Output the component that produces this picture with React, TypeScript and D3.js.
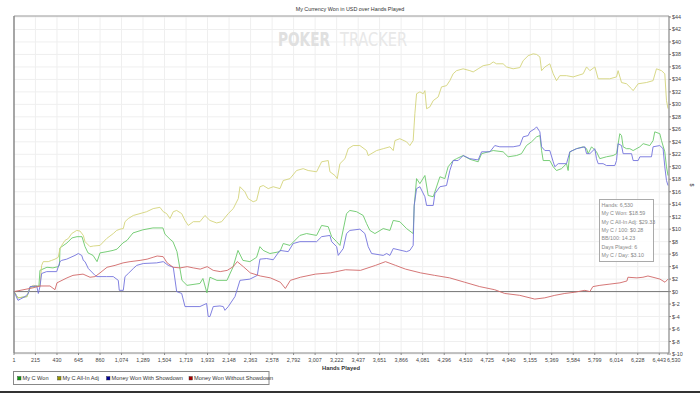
import React from "react";
import * as d3 from "d3";

// hands played tick labels on the x axis
const handTicks = [1, 215, 430, 645, 860, 1074, 1289, 1504, 1719, 1933, 2148, 2363, 2578, 2792, 3007, 3222, 3437, 3651, 3866, 4081, 4296, 4510, 4725, 4940, 5155, 5369, 5584, 5799, 6014, 6228, 6443, 6530];
const dollarTicks = [-10, -8, -6, -4, -2, 0, 2, 4, 6, 8, 10, 12, 14, 16, 18, 20, 22, 24, 26, 28, 30, 32, 34, 36, 38, 40, 42, 44];

// [hand, dollars]
const myCWon: [number, number][] = [
  [1, 0], [41, -1.0], [131, -0.8], [161, 0.7], [241, 0.9], [250, 0.9], [260, 3.4], [330, 3.9], [390, 3.8], [440, 4.0], [455, 4.2], [460, 7.0], [530, 7.8], [580, 8.6], [630, 8.8], [680, 8.8], [710, 7.2], [740, 6.2], [790, 5.8], [830, 4.8], [860, 6.2], [930, 6.4], [990, 6.6], [1029, 6.8], [1089, 7.8], [1129, 8.2], [1189, 9.4], [1288, 9.9], [1388, 10.2], [1488, 10.2], [1508, 9.2], [1558, 8.4], [1588, 8.0], [1628, 6.4], [1678, 1.8], [1728, 1.0], [1857, 1.3], [1887, 2.1], [1927, -0.2], [1957, 2.3], [2027, 1.8], [2127, 1.8], [2187, 3.9], [2237, 6.6], [2286, 5.0], [2356, 4.8], [2423, 5.5], [2456, 7.2], [2489, 6.6], [2556, 6.1], [2656, 6.4], [2689, 7.7], [2756, 7.4], [2855, 9.0], [2922, 9.3], [3022, 9.0], [3072, 10.6], [3138, 10.4], [3172, 8.8], [3222, 8.0], [3255, 7.4], [3321, 12.5], [3354, 13.0], [3421, 12.8], [3487, 12.2], [3521, 10.9], [3554, 9.8], [3604, 9.3], [3687, 10.1], [3754, 9.8], [3787, 11.4], [3853, 11.2], [3920, 10.1], [3986, 9.3], [3996, 13.6], [4020, 18.1], [4053, 17.3], [4103, 18.6], [4136, 15.4], [4186, 15.2], [4203, 16.0], [4253, 18.4], [4302, 18.1], [4335, 20.0], [4385, 21.0], [4419, 21.3], [4485, 21.8], [4552, 21.2], [4635, 20.8], [4669, 22.1], [4785, 22.6], [4884, 22.4], [4934, 21.6], [5018, 21.8], [5067, 22.1], [5117, 23.4], [5168, 24.0], [5218, 24.8], [5251, 25.0], [5268, 22.6], [5284, 21.0], [5350, 21.0], [5384, 20.0], [5417, 19.4], [5467, 19.7], [5517, 20.5], [5533, 19.4], [5550, 22.4], [5617, 22.9], [5683, 23.2], [5717, 22.9], [5733, 22.1], [5767, 23.2], [5816, 22.4], [5849, 21.3], [5916, 21.6], [5982, 21.8], [6016, 22.1], [6049, 25.3], [6066, 25.0], [6082, 23.2], [6116, 22.9], [6149, 22.9], [6182, 22.6], [6249, 23.2], [6282, 23.7], [6348, 23.4], [6381, 24.2], [6398, 25.6], [6448, 25.3], [6465, 24.2], [6498, 22.4], [6515, 20.0], [6530, 18.59],
];

const allInAdj: [number, number][] = [
  [1, 0], [41, -1.0], [131, -0.8], [161, 0.7], [194, 1.0], [260, 0.8], [277, 4.2], [293, 4.8], [343, 4.8], [377, 5.0], [410, 5.2], [443, 5.5], [460, 6.9], [477, 7.4], [510, 8.2], [543, 8.5], [577, 9.3], [627, 9.8], [660, 9.7], [693, 9.0], [710, 8.0], [760, 7.2], [793, 7.3], [860, 7.4], [926, 8.5], [992, 9.3], [1026, 9.8], [1059, 10.0], [1092, 10.1], [1109, 11.2], [1142, 11.7], [1192, 12.2], [1259, 12.5], [1325, 12.8], [1391, 13.3], [1458, 13.5], [1491, 12.8], [1525, 12.5], [1558, 11.7], [1591, 12.8], [1625, 13.0], [1675, 12.5], [1708, 11.4], [1741, 10.6], [1791, 11.2], [1857, 11.2], [1907, 12.2], [1957, 11.4], [2024, 11.0], [2074, 11.2], [2140, 12.5], [2190, 13.3], [2240, 14.9], [2257, 16.8], [2306, 16.0], [2339, 14.9], [2389, 14.4], [2423, 14.6], [2456, 16.8], [2489, 17.0], [2539, 16.5], [2589, 16.8], [2656, 16.5], [2689, 17.8], [2756, 18.1], [2822, 19.4], [2888, 19.7], [2938, 19.4], [3022, 19.2], [3072, 20.8], [3138, 21.0], [3155, 19.2], [3205, 18.6], [3228, 18.1], [3255, 20.5], [3305, 21.3], [3338, 22.9], [3387, 23.4], [3454, 23.4], [3521, 22.6], [3537, 21.8], [3621, 22.6], [3687, 22.9], [3754, 23.2], [3787, 22.6], [3804, 24.2], [3853, 24.5], [3920, 24.0], [3953, 23.4], [3986, 24.2], [4003, 28.5], [4020, 31.7], [4053, 32.0], [4086, 31.7], [4103, 32.2], [4120, 29.3], [4153, 29.6], [4186, 30.6], [4236, 31.2], [4269, 32.8], [4319, 33.0], [4352, 33.8], [4385, 34.9], [4419, 35.4], [4485, 35.7], [4552, 35.4], [4585, 35.2], [4635, 35.7], [4685, 36.2], [4752, 36.4], [4785, 36.8], [4818, 36.5], [4884, 36.5], [4918, 36.0], [4984, 35.7], [5051, 35.9], [5084, 37.0], [5134, 37.8], [5184, 38.1], [5218, 38.0], [5251, 37.6], [5268, 35.4], [5301, 36.0], [5350, 36.5], [5384, 34.9], [5417, 33.8], [5450, 34.6], [5517, 34.6], [5583, 34.4], [5683, 34.9], [5717, 36.0], [5750, 35.4], [5800, 36.0], [5833, 34.1], [5949, 34.1], [6016, 34.4], [6032, 35.4], [6066, 33.5], [6116, 33.3], [6166, 32.5], [6182, 32.2], [6232, 33.3], [6315, 33.5], [6381, 33.8], [6415, 35.7], [6465, 35.4], [6498, 34.9], [6515, 30.6], [6530, 29.33],
];

const withShowdown: [number, number][] = [
  [1, 0], [41, -1.4], [111, -0.8], [144, -0.3], [161, 0.8], [228, 0.9], [244, -0.3], [260, 0.8], [277, 2.9], [327, 3.2], [427, 3.2], [460, 4.8], [477, 5.0], [527, 5.2], [610, 5.8], [643, 6.1], [677, 5.8], [693, 5.0], [710, 4.8], [743, 3.7], [810, 2.6], [827, 2.4], [926, 2.4], [992, 2.4], [1042, 1.8], [1052, 0.2], [1092, 0.2], [1109, 2.4], [1142, 2.9], [1192, 3.7], [1226, 4.2], [1292, 4.5], [1425, 4.6], [1491, 4.8], [1541, 4.2], [1591, 3.9], [1625, 0], [1675, -0.3], [1708, -2.4], [1857, -2.4], [1924, -1.9], [1940, -4.0], [1957, -4.0], [1990, -2.4], [2057, -2.3], [2090, -2.4], [2107, -3.0], [2140, -2.4], [2207, -0.8], [2257, 1.8], [2356, 2.0], [2430, 2.6], [2456, 5.2], [2523, 5.3], [2589, 5.1], [2656, 6.6], [2739, 6.4], [2788, 7.7], [2855, 8.0], [3022, 8.0], [3072, 8.8], [3155, 9.0], [3172, 8.0], [3222, 7.2], [3238, 5.8], [3288, 6.9], [3321, 9.3], [3354, 9.8], [3454, 10.0], [3504, 9.3], [3537, 7.2], [3571, 6.1], [3687, 5.8], [3721, 6.1], [3754, 5.8], [3787, 6.9], [3920, 6.4], [3953, 6.6], [3986, 7.4], [3996, 13.8], [4020, 16.5], [4053, 16.8], [4103, 15.2], [4120, 13.8], [4186, 13.8], [4203, 15.7], [4253, 16.8], [4319, 17.0], [4352, 19.4], [4385, 21.0], [4435, 21.0], [4485, 21.8], [4552, 21.3], [4635, 21.1], [4669, 22.4], [4752, 22.4], [4801, 23.4], [4851, 23.2], [4984, 23.2], [5051, 23.4], [5084, 24.8], [5134, 25.0], [5151, 25.6], [5201, 26.1], [5218, 26.4], [5251, 25.6], [5268, 23.2], [5301, 22.6], [5350, 22.6], [5384, 20.8], [5400, 20.0], [5434, 20.5], [5517, 20.5], [5550, 22.4], [5617, 22.9], [5700, 23.2], [5717, 22.1], [5750, 22.1], [5800, 22.9], [5816, 21.3], [5833, 20.5], [5882, 20.5], [5916, 20.2], [5999, 20.2], [6016, 21.0], [6032, 23.7], [6066, 23.4], [6082, 22.1], [6166, 22.1], [6182, 21.0], [6232, 21.0], [6249, 21.6], [6365, 21.6], [6381, 23.2], [6448, 23.4], [6481, 22.9], [6498, 20.0], [6515, 17.8], [6530, 17.0],
];

const withoutShowdown: [number, number][] = [
  [1, 0], [190, 0.6], [260, 0.9], [360, 0.9], [410, 0.3], [430, 1.4], [530, 2.2], [590, 2.6], [690, 2.8], [760, 2.3], [810, 2.4], [860, 3.0], [930, 3.9], [1010, 4.2], [1090, 4.6], [1160, 4.8], [1260, 5.0], [1330, 5.2], [1390, 5.5], [1430, 5.7], [1490, 5.6], [1530, 4.6], [1590, 3.9], [1660, 3.8], [1730, 4.0], [1790, 3.8], [1860, 3.6], [1930, 4.0], [1990, 3.4], [2060, 3.2], [2130, 3.4], [2190, 4.0], [2230, 4.8], [2290, 4.0], [2360, 3.0], [2460, 2.5], [2560, 2.2], [2660, 1.5], [2710, 0.5], [2760, 1.8], [2860, 2.3], [3010, 2.8], [3160, 3.0], [3310, 3.5], [3460, 3.4], [3610, 4.2], [3710, 4.8], [3810, 4.2], [3910, 3.6], [4060, 3.0], [4200, 2.6], [4350, 2.2], [4500, 1.5], [4650, 0.8], [4800, 0.3], [4900, -0.3], [5050, -0.6], [5200, -1.2], [5300, -1.0], [5400, -0.6], [5500, -0.3], [5600, -0.1], [5700, 0.2], [5750, 0.0], [5780, 0.8], [5850, 1.0], [5950, 1.2], [6050, 1.4], [6120, 1.7], [6130, 2.3], [6220, 2.2], [6280, 2.3], [6330, 2.5], [6380, 2.3], [6450, 2.0], [6500, 1.5], [6530, 2.0],
];

const seriesNames = ["My C Won", "My C All-In Adj", "Money Won With Showdown", "Money Won Without Showdown"];
const infoLines = ["Hands: 6,530", "My C Won: $18.59", "My C All-In Adj: $29.33", "My C / 100: $0.28", "BB/100: 14.23", "Days Played: 6", "My C / Day: $3.10"];

const lineColors = ["#6ac86a", "#d4d47a", "#7373dc", "#d06868"];
const legendColors = ["#119911", "#999900", "#000099", "#aa0000"];

const font = "'Liberation Sans', Arial, sans-serif";
const markFont = "'Liberation Sans Narrow', 'DejaVu Sans Condensed', sans-serif";

export default function App() {
  const left = 14, right = 669, top = 16, bottom = 353;
  const x = d3.scaleLinear().domain([1, 6530]).range([left, right - 1]);
  const y = d3.scaleLinear().domain([-10, 44]).range([bottom + 1, top + 1]);
  const line = d3.line<[number, number]>().x(d => x(d[0])).y(d => y(d[1]));
  const fmt = d3.format(",");
  const all = [myCWon, allInAdj, withShowdown, withoutShowdown];

  const legendX = [17.5, 57.5, 106.5, 189];
  const last = handTicks.length - 1;

  return (
    <svg width={700} height={393} style={{ position: "fixed", left: 0, top: 0, background: "#fff" }} fontFamily={font}>
      <rect width={700} height={393} fill="#fff" />
      <text x={350} y={11} fontSize={5.4} textAnchor="middle" fill="#333">My Currency Won in USD over Hands Played</text>

      {/* grid */}
      {handTicks.slice(1, -1).map(h => (
        <line key={"gx" + h} x1={x(h)} x2={x(h)} y1={top} y2={bottom} stroke="#efefef" />
      ))}
      {dollarTicks.map(v => (
        <line key={"gy" + v} x1={left} x2={right} y1={y(v)} y2={y(v)} stroke="#efefef" />
      ))}

      {/* watermark */}
      <text x={278} y={46} fontSize={20} fontWeight="bold" fill="#e0e0e0" fontFamily={markFont} textLength={52} lengthAdjust="spacingAndGlyphs">POKER</text>
      <text x={340} y={46} fontSize={20} fill="#e8e8e8" fontFamily={markFont} textLength={67} lengthAdjust="spacingAndGlyphs">TRACKER</text>

      {/* zero line */}
      <line x1={left} x2={right} y1={y(0)} y2={y(0)} stroke="#777" strokeWidth={1} />

      {all.map((s, i) => (
        <path key={i} d={line(s) || ""} fill="none" stroke={lineColors[i]} strokeWidth={0.9} strokeLinejoin="round" />
      ))}

      {/* frame and axes */}
      <line x1={left} x2={right} y1={top} y2={top} stroke="#999" />
      <line x1={left} x2={left} y1={top} y2={bottom} stroke="#888" strokeWidth={1.5} />
      <line x1={right} x2={right} y1={top} y2={bottom} stroke="#888" strokeWidth={1.2} />
      <line x1={left} x2={right} y1={bottom} y2={bottom} stroke="#888" strokeWidth={1.2} />

      {dollarTicks.map(v => (
        <g key={"yt" + v}>
          <line x1={right} x2={right + 2} y1={y(v)} y2={y(v)} stroke="#888" />
          <text x={right + 3} y={y(v) + 2} fontSize={5.4} fill="#444">{v < 0 ? "$-" + Math.abs(v) : "$" + v}</text>
        </g>
      ))}
      <text transform={`translate(690,185) rotate(90)`} fontSize={5.4} fill="#444" textAnchor="middle">$</text>

      {handTicks.map((h, i) => (
        <g key={"xt" + h}>
          <line x1={x(h)} x2={x(h)} y1={bottom} y2={bottom + 2} stroke="#888" />
          <text x={i === last ? x(h) - 1 : x(h)} y={bottom + 8.5} fontSize={5.4} fill="#444" textAnchor={i === last ? "start" : "middle"}>{fmt(h)}</text>
        </g>
      ))}
      <text x={341} y={369.5} fontSize={5.8} fill="#333" textAnchor="middle" fontWeight="bold">Hands Played</text>

      {/* legend */}
      <rect x={13.5} y={371.5} width={255.5} height={13} fill="#fff" stroke="#888" />
      {seriesNames.map((n, i) => (
        <g key={n}>
          <rect x={legendX[i]} y={376.5} width={3.5} height={3.5} fill={legendColors[i]} stroke="#333" strokeWidth={0.4} />
          <text x={legendX[i] + 5} y={380.2} fontSize={5.6} fill="#333">{n}</text>
        </g>
      ))}

      {/* info box */}
      <rect x={599.5} y={199.5} width={54} height={62} fill="#fff" fillOpacity={0.85} stroke="#aaa" />
      {infoLines.map((t, i) => (
        <text key={t} x={601.5} y={206.7 + i * 8.4} fontSize={5.3} fill="#888">{t}</text>
      ))}

      <rect x={0} y={391} width={700} height={2} fill="#333" />
    </svg>
  );
}
